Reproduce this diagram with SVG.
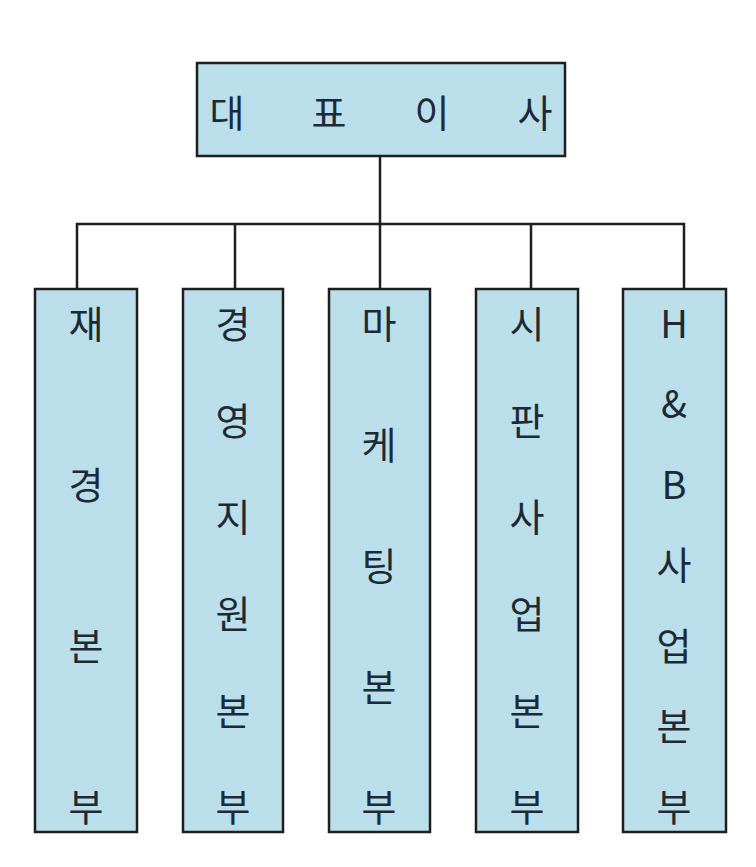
<svg xmlns="http://www.w3.org/2000/svg" width="756" height="867" viewBox="0 0 756 867">
<style>
.box{fill:#bbdfea;stroke:#1e1e1e;stroke-width:2.5}
.t{font-family:"Noto Sans CJK KR","Liberation Sans",sans-serif;font-size:38px;fill:#1c2a36;text-anchor:middle;dominant-baseline:central}
.c{fill:none;stroke:#1e1e1e;stroke-width:2.5}
</style>
<rect width="756" height="867" fill="#ffffff"/>
<g id="connectors">
<path class="c" d="M380 156V224M77 289V224H684V289M235 224V289M380 224V289M531 224V289"/>
</g>
<g id="ceo">
<rect class="box" x="197" y="63" width="368" height="93"/>
<text class="t" x="227" y="110">대</text>
<text class="t" x="329" y="110">표</text>
<text class="t" x="432" y="110">이</text>
<text class="t" x="535" y="110">사</text>
</g>
<g id="finance">
<rect class="box" x="35" y="289" width="102" height="543"/>
<text class="t" x="86" y="321">재</text>
<text class="t" x="86" y="482">경</text>
<text class="t" x="86" y="643">본</text>
<text class="t" x="86" y="804">부</text>
</g>
<g id="management">
<rect class="box" x="183" y="289" width="100" height="543"/>
<text class="t" x="233" y="321">경</text>
<text class="t" x="233" y="418">영</text>
<text class="t" x="233" y="514">지</text>
<text class="t" x="233" y="611">원</text>
<text class="t" x="233" y="708">본</text>
<text class="t" x="233" y="804">부</text>
</g>
<g id="marketing">
<rect class="box" x="329" y="289" width="101" height="543"/>
<text class="t" x="379" y="321">마</text>
<text class="t" x="379" y="442">케</text>
<text class="t" x="379" y="563">팅</text>
<text class="t" x="379" y="684">본</text>
<text class="t" x="379" y="804">부</text>
</g>
<g id="retail">
<rect class="box" x="476" y="289" width="102" height="543"/>
<text class="t" x="527" y="321">시</text>
<text class="t" x="527" y="418">판</text>
<text class="t" x="527" y="514">사</text>
<text class="t" x="527" y="611">업</text>
<text class="t" x="527" y="708">본</text>
<text class="t" x="527" y="804">부</text>
</g>
<g id="hb">
<rect class="box" x="623" y="289" width="103" height="543"/>
<text class="t" x="674" y="321">H</text>
<text class="t" x="674" y="401">&amp;</text>
<text class="t" x="674" y="482">B</text>
<text class="t" x="674" y="562">사</text>
<text class="t" x="674" y="643">업</text>
<text class="t" x="674" y="723">본</text>
<text class="t" x="674" y="804">부</text>
</g>
</svg>
